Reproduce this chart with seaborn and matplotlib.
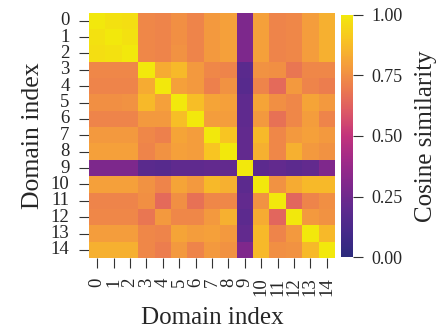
import numpy as np
import pandas as pd
import matplotlib
matplotlib.use("Agg")
import matplotlib.pyplot as plt
from matplotlib.colors import LinearSegmentedColormap
import seaborn as sns

sns.set_style("ticks")
plt.rcParams['font.family'] = ['Liberation Serif', 'DejaVu Serif']

domains = list(range(15))

# lower-triangle rows of the (symmetric) cosine-similarity matrix
rows_lower = [
    [1.00],
    [0.98, 1.00],
    [0.97, 0.98, 1.00],
    [0.73, 0.73, 0.73, 1.00],
    [0.72, 0.72, 0.72, 0.83, 1.00],
    [0.75, 0.75, 0.76, 0.87, 0.80, 1.00],
    [0.72, 0.72, 0.72, 0.78, 0.78, 0.88, 1.00],
    [0.78, 0.78, 0.78, 0.73, 0.71, 0.81, 0.79, 1.00],
    [0.80, 0.80, 0.80, 0.72, 0.76, 0.80, 0.79, 0.90, 1.00],
    [0.29, 0.29, 0.29, 0.18, 0.17, 0.20, 0.20, 0.21, 0.21, 1.00],
    [0.80, 0.80, 0.80, 0.76, 0.72, 0.81, 0.78, 0.87, 0.84, 0.19, 1.00],
    [0.72, 0.72, 0.72, 0.75, 0.65, 0.75, 0.67, 0.73, 0.73, 0.21, 0.76, 1.00],
    [0.73, 0.73, 0.73, 0.68, 0.78, 0.73, 0.73, 0.78, 0.84, 0.19, 0.83, 0.64, 1.00],
    [0.79, 0.79, 0.79, 0.73, 0.72, 0.81, 0.79, 0.80, 0.78, 0.21, 0.87, 0.72, 0.78, 1.00],
    [0.84, 0.84, 0.84, 0.73, 0.70, 0.78, 0.72, 0.78, 0.76, 0.30, 0.87, 0.75, 0.76, 0.87, 1.00],
]

# colour scale as it appears in the reference (a softened plasma)
cmap_colors = ["#2c2a7c", "#45298a", "#5f2a8e", "#80288c", "#a02a88", "#c2337c",
               "#dc5866", "#ec7c4e", "#f5a03a", "#f8c422", "#f2e80c"]
cmap = LinearSegmentedColormap.from_list("soft_plasma", cmap_colors)

n = len(domains)
mat = np.zeros((n, n))
for i, r in enumerate(rows_lower):
    for j, v in enumerate(r):
        mat[i, j] = v
        mat[j, i] = v
df = pd.DataFrame(mat, index=domains, columns=domains)

fig = plt.figure(figsize=(4.43, 3.30), dpi=100)
ax = fig.add_axes([0.201, 0.218, 0.555, 0.744])
cax = fig.add_axes([0.770, 0.221, 0.027, 0.734])

sns.heatmap(df, ax=ax, cbar_ax=cax, cmap=cmap, vmin=0, vmax=1,
            square=False, cbar_kws={"ticks": [0, 0.25, 0.5, 0.75, 1.0],
                                    "format": "%.2f"})

ax.set_xlabel("Domain index", fontsize=18, labelpad=8)
ax.set_ylabel("Domain index", fontsize=18.5, labelpad=5)
ax.tick_params(axis='both', length=7, width=0.8, color='#333333', labelsize=13.5, pad=7)
ax.set_xticklabels(domains, rotation=90)
ax.set_yticklabels(domains, rotation=0)

cax.tick_params(length=7, width=0.8, color='#333333', labelsize=13, pad=6)
cax.set_ylabel("Cosine similarity", fontsize=18, labelpad=9)
for s in cax.spines.values():
    s.set_visible(False)

fig.savefig("out.png", dpi=100)
